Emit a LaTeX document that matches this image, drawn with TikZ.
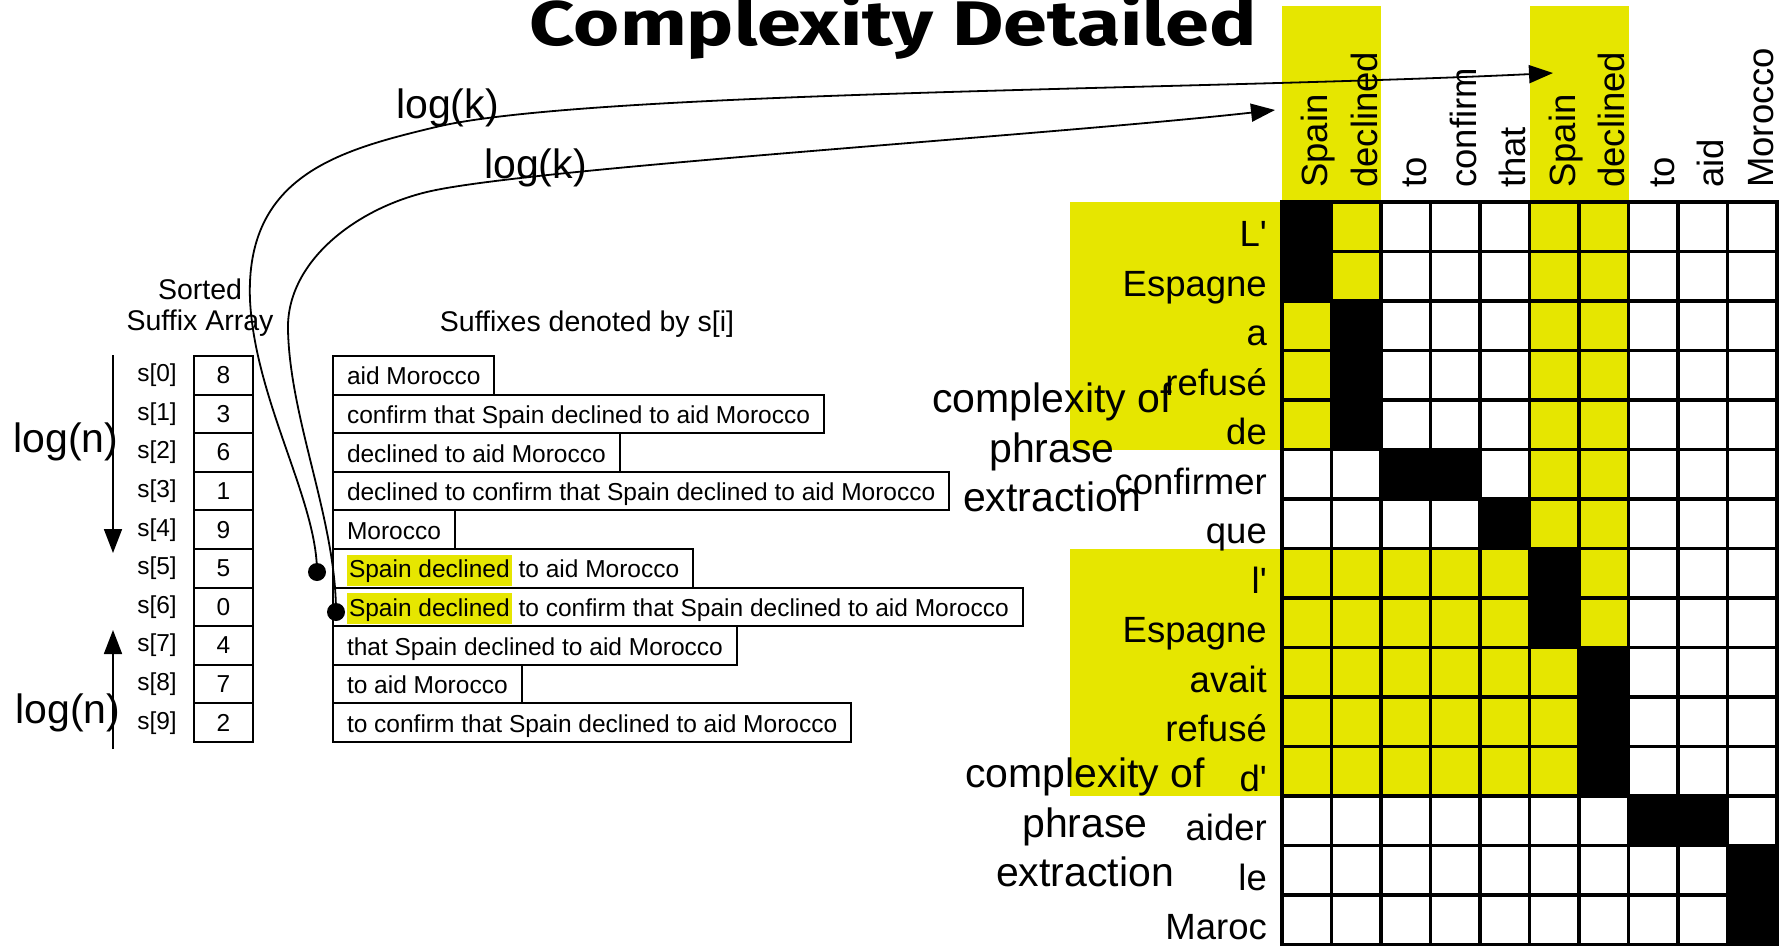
\documentclass[tikz,border=0pt]{standalone}
\usepackage{fontspec}
\setmainfont{Liberation Sans}
\newfontfamily\titlefont{Fira Sans}
\usepackage{graphicx}
\usepackage{tikz}
\usetikzlibrary{positioning,arrows.meta}
\definecolor{hlyellow}{RGB}{230,230,0}

\newcommand{\hlword}[1]{{\setlength{\fboxsep}{2pt}\colorbox{hlyellow}{\rule[-6pt]{0pt}{27pt}#1}}}

\tikzstyle{arraycell} = [rectangle, draw=black, line width=2pt, minimum width=59pt, minimum height=38.6pt, inner sep=0pt, font=\fontsize{24.5}{29}\selectfont]
\tikzstyle{idxlabel} = [inner sep=0pt, font=\fontsize{24.5}{29}\selectfont]
\tikzstyle{suffix} = [rectangle, draw=black, line width=2pt, minimum height=38.6pt, inner xsep=14pt, inner ysep=0pt, text height=20pt, text depth=1pt, font=\fontsize{24.5}{29}\selectfont]
\tikzstyle{heading} = [inner sep=0pt, align=center, font=\fontsize{28.5}{31}\selectfont]
\tikzstyle{biglabel} = [inner sep=0pt, align=center, font=\fontsize{41}{49.5}\selectfont]
\tikzstyle{wordlabel} = [inner sep=0pt, font=\fontsize{36.5}{40}\selectfont]
\tikzstyle{cell} = [rectangle, draw=black, line width=3.3pt, minimum size=49.5pt, inner sep=0pt, outer sep=0pt, anchor=north west]
\tikzstyle{cellw} = [cell, fill=white]
\tikzstyle{celly} = [cell, fill=hlyellow]
\tikzstyle{cellb} = [cell, fill=black]
\tikzstyle{dot} = [circle, fill=black, minimum size=18pt, inner sep=0pt]
\tikzstyle{arrow} = [line width=1.8pt, -{Triangle[length=24pt,width=18pt]}]

\begin{document}
\begin{tikzpicture}[x=1pt,y=-1pt]
\useasboundingbox (0,0) rectangle (1780,946);

\node (title) [inner sep=0pt, anchor=base] at (893.5,45) {\resizebox{727pt}{\height}{\titlefont\bfseries\fontsize{63}{70}\selectfont Complexity Detailed}};

% highlighted phrase pair
\fill [hlyellow] (1069.5,202) rectangle (1282,449.5);
\fill [hlyellow] (1069.5,548.5) rectangle (1282,796);
\fill [hlyellow] (1282,6) rectangle (1381,202);
\fill [hlyellow] (1529.5,6) rectangle (1628.5,202);

\node (cpxA) [biglabel] at (1052,447.5) {complexity of\\phrase\\extraction};
\node (cpxB) [biglabel] at (1085,822.5) {complexity of\\phrase\\extraction};

% alignment matrix
\foreach \pat [count=\r] in {{b,y,w,w,w,y,y,w,w,w},{b,y,w,w,w,y,y,w,w,w},{y,b,w,w,w,y,y,w,w,w},{y,b,w,w,w,y,y,w,w,w},{y,b,w,w,w,y,y,w,w,w},{w,w,b,b,w,y,y,w,w,w},{w,w,w,w,b,y,y,w,w,w},{y,y,y,y,y,b,y,w,w,w},{y,y,y,y,y,b,y,w,w,w},{y,y,y,y,y,y,b,w,w,w},{y,y,y,y,y,y,b,w,w,w},{y,y,y,y,y,y,b,w,w,w},{w,w,w,w,w,w,w,b,b,w},{w,w,w,w,w,w,w,w,w,b},{w,w,w,w,w,w,w,w,w,b}}
  \foreach \t [count=\c] in \pat
    \node (cell-\r-\c) [cell\t] at ({1282+(\c-1)*49.5},{202+(\r-1)*49.5}) {};

\foreach \lab [count=\r] in {L\textquotesingle, Espagne, a, refusé, de, confirmer, que, l\textquotesingle, Espagne, avait, refusé, d\textquotesingle, aider, le, Maroc}
  \node (row-\r) [wordlabel, anchor=base east] at (1267,{202+\r*49.5-5}) {\lab};

\foreach \lab [count=\c] in {Spain, declined, to, confirm, that, Spain, declined, to, aid, Morocco}
  \node (col-\c) [wordlabel, rotate=90, anchor=base west] at ({1282+(\c-0.5)*49.5+21},188) {\lab};

% suffix array
\node (sorted) [heading] at (200,308) {Sorted\\Suffix Array};
\node (suffixes) [heading, anchor=base] at (587,331) {Suffixes denoted by s[i]};

\foreach \v [count=\i from 0] in {8,3,6,1,9,5,0,4,7,2} {
  \node (sa-\i) [arraycell] at (223.5,{375.3+38.6*\i}) {\v};
  \node (idx-\i) [idxlabel, left=16pt of sa-\i] {s[\i]};
}

\foreach \txt [count=\i from 0] in {aid Morocco, confirm that Spain declined to aid Morocco, declined to aid Morocco, declined to confirm that Spain declined to aid Morocco, Morocco, \hlword{Spain declined} to aid Morocco, \hlword{Spain declined} to confirm that Spain declined to aid Morocco, that Spain declined to aid Morocco, to aid Morocco, to confirm that Spain declined to aid Morocco}
  \node (suf-\i) [suffix, anchor=west] at (332,{375.3+38.6*\i}) {\txt};

% binary search
\coordinate (downS) at (113,355);
\coordinate (downE) at (113,553);
\coordinate (upS) at (113,749);
\coordinate (upE) at (113,630);
\draw [arrow] (downS) -- (downE);
\draw [arrow] (upS) -- (upE);
\node (lognA) [biglabel, anchor=base] at (66,452) {log(n)};
\node (lognB) [biglabel, anchor=base] at (68,723) {log(n)};

% lookups into the corpus
\node (dotA) [dot] at (317,572) {};
\node (dotB) [dot] at (336,612) {};
\coordinate (tipA) at (1553,73);
\coordinate (tipB) at (1275,110);
\draw [arrow] (dotA.center) .. controls (317,500) and (255,400) .. (250,300) .. controls (245,175) and (340,150) .. (436,127) .. controls (586,91) and (1200,90) .. (tipA);
\draw [arrow] (dotB.center) .. controls (336,520) and (290,420) .. (288,330) .. controls (286,260) and (360,205) .. (436,190) .. controls (550,167) and (1050,135) .. (tipB);
\node (logkA) [biglabel, anchor=base] at (447.5,118) {log(k)};
\node (logkB) [biglabel, anchor=base] at (535.5,178) {log(k)};
\end{tikzpicture}
\end{document}
